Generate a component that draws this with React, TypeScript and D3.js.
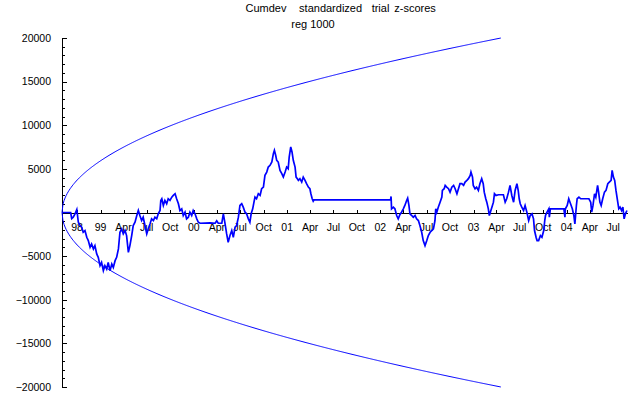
import React from "react";
import * as d3 from "d3";

// ---------- data ----------
const startDate = new Date(1998, 7, 3);
const titleWords = ["Cumdev", "standardized", "trial", "z-scores"];
const subtitle = "reg 1000";

// day offsets (from startDate) and cumulative deviation values
const seriesDays = [
  0, 34, 38, 44, 51, 58, 64, 71, 77, 83, 90, 97, 103, 110, 116, 123, 129, 136, 142, 149,
  155, 162, 168, 175, 181, 188, 195, 201, 208, 214, 221, 227, 234, 240, 247, 253, 260, 266, 273, 279,
  286, 293, 299, 305, 312, 318, 325, 332, 338, 345, 351, 358, 364, 371, 377, 384, 387, 391, 397, 403,
  410, 416, 423, 430, 436, 443, 449, 456, 462, 469, 475, 482, 488, 495, 501, 508, 514, 521, 528, 534,
  541, 580, 600, 606, 612, 626,
  632, 638, 645, 651, 658, 665, 671, 678, 684, 691, 697, 704, 710, 717, 723, 730, 736, 741, 747, 752,
  756, 762, 769, 776, 782, 789, 795, 802, 808, 815, 822, 828, 832, 837, 841, 847, 854, 861, 867, 874,
  880, 886, 890, 896, 901, 906, 913, 917, 922, 926, 932, 939, 945, 952, 958, 965, 971, 975, 980, 984,
  987, 1287, 1289, 1291,
  1298, 1304, 1311, 1317, 1324, 1330, 1337, 1343, 1350, 1354, 1359, 1363, 1370, 1376, 1383, 1389, 1396, 1402,
  1409, 1415, 1422, 1429, 1435, 1442, 1448, 1455, 1461, 1464, 1468, 1474, 1481, 1488, 1490, 1497, 1501, 1507,
  1514, 1520, 1527, 1534, 1540, 1547, 1553, 1559, 1566, 1573, 1579, 1586, 1592, 1599, 1602, 1608, 1611, 1618,
  1624, 1631, 1637, 1644, 1650, 1654, 1660, 1664, 1670, 1674, 1680, 1684, 1690, 1694, 1700, 1710, 1729, 1736,
  1742, 1749, 1755, 1762, 1769, 1775, 1782, 1787, 1791,
  1795, 1801, 1808, 1814, 1821, 1828, 1834, 1841, 1847, 1851, 1857, 1861, 1867, 1874, 1880, 1887, 1891, 1894,
  1900, 1907, 1909, 1913, 1966, 1970, 1972, 1979, 1985, 1992, 1999, 2005, 2009, 2015, 2018, 2025, 2032, 2064,
  2071, 2075, 2080, 2086, 2091, 2098, 2102, 2107, 2112, 2118, 2125, 2131, 2138, 2144, 2151, 2155, 2160, 2165,
  2170, 2177, 2181, 2186, 2192, 2197, 2202, 2207, 2213,
];

const seriesValues = [
  0, 0, -690, -540, -150, 345, -1115, -1495, -1690, -2265, -2070, -2840, -3220, -3990, -3600, -4175, -3795, -4750, -5140, -6095,
  -5715, -6670, -6095, -6475, -5715, -6670, -5900, -6290, -5520, -5140, -4175, -2265, -1880, -2450, -2070, -2645, -4565, -3795, -2645, -1495,
  -1115, -345, 230, -345, -920, -540, -1495, -2450, -1875, -1300, -725, -920, -540, -725, -150, 230, 1380, 1575, 805, 1380,
  1000, 1575, 1380, 1760, 1955, 2150, 1575, 1000, 230, 425, -345, 35, -725, -540, 35, -345, 230, -150, -725, -1115,
  -1230, -1185, -1230, -950, -1230, -1230,
  -150, -1150, -2450, -3415, -2645, -2070, -2840, -1690, -1495, -540, 805, 1000, 610, 35, -150, -725, -1115, -150, 425, 1185,
  1760, 1575, 2150, 1955, 2725, 2910, 4255, 4635, 5210, 5405, 5785, 6750, 7130, 6555, 5980, 5785, 4830, 4450, 4060, 4635,
  5210, 5020, 6360, 7510, 6935, 5980, 5210, 4060, 3875, 3680, 3875, 3485, 4060, 3680, 3300, 2910, 2725, 2150, 1575, 1300,
  1440, 1440, 1840, 425,
  610, 425, -345, -725, -230, 35, 425, 805, 1380, 1645, 805, -150, -345, -540, -345, -725, -920, -1495,
  -2265, -3220, -3795, -3220, -2645, -2265, -2070, -1875, -920, 425, 35, 610, 1185, 1760, 2530, 2725, 3105, 2910,
  2725, 2335, 2910, 3105, 2725, 2150, 2725, 3300, 3300, 3105, 3485, 3680, 3875, 4255, 4635, 4060, 3105, 2725,
  2910, 2530, 3300, 3875, 3300, 2335, 1575, 1185, 425, -345, 230, 610, 1185, 2150, 1955, 2035, 2035, 1185,
  1575, 2335, 3105, 1955, 1185, 2530, 3300, 2530, 1575,
  1000, 610, 230, 805, 35, -920, -345, -150, -725, -2070, -2840, -3220, -3220, -2645, -2840, -2070, -920, -345,
  35, 425, -540, 425, 425, -540, 425, 805, 1575, 1000, 425, -345, -1300, 805, 1575, 1760, 1575, 1575,
  1185, 35, 805, 2150, 1760, 3105, 2335, 1185, 805, 1575, 2335, 2530, 3300, 3485, 3680, 4830, 4060, 3680,
  2530, 1185, 425, 610, 230, 610, -725, -150, 230,
];

// envelope: k * sqrt(days)
const envelopeK = 482.3;

const yTicksMajor = [-20000, -15000, -10000, -5000, 5000, 10000, 15000, 20000];
const yTickLabels = ["\u221220000", "\u221215000", "\u221210000", "\u22125000", "5000", "10000", "15000", "20000"];

const xTickLabels = [
  "98", "99", "Apr", "Jul", "Oct", "00", "Apr", "Jul", "Oct", "01", "Apr", "Jul", "Oct",
  "02", "Apr", "Jul", "Oct", "03", "Apr", "Jul", "Oct", "04", "Apr", "Jul",
];

// ---------- chart ----------
const W = 640;
const H = 395;
const FONT = "'Liberation Sans', Arial, Helvetica, sans-serif";
const titleCenters = [266, 330.6, 380.5, 415];

export default function App() {
  const x = d3
    .scaleTime()
    .domain([startDate, new Date(2004, 0, 1)])
    .range([62, 566.7]);
  const y = d3.scaleLinear().domain([-20000, 20000]).range([387, 38]);

  const dayToDate = (d: number) => d3.timeDay.offset(startDate, d);

  const series = seriesDays.map((d, i) => [x(dayToDate(d)), y(seriesValues[i])] as [number, number]);
  const line = d3.line<[number, number]>();

  const maxDay = Math.floor((20000 / envelopeK) ** 2);
  const envDays = d3.range(0, maxDay + 1, 4).concat([maxDay]);
  const upper = envDays.map((d) => [x(dayToDate(d)), y(envelopeK * Math.sqrt(d))] as [number, number]);
  const lower = envDays.map((d) => [x(dayToDate(d)), y(-envelopeK * Math.sqrt(d))] as [number, number]);

  const quarterDates = d3.timeMonth.every(3)!.range(new Date(1998, 9, 1), new Date(2004, 7, 1));

  const yMinor = d3.range(-20000, 20001, 1000).filter((v) => v % 5000 !== 0);
  const xEnd = x(dayToDate(seriesDays[seriesDays.length - 1])) + 1.5;

  return (
    <svg
      width={W}
      height={H}
      style={{ position: "absolute", left: 0, top: 0, background: "#fff" }}
      fontFamily={FONT}
    >
      <rect x={0} y={0} width={W} height={H} fill="#fff" />
      {titleWords.map((w, i) => (
        <text key={w} x={titleCenters[i]} y={11.5} fontSize={11} textAnchor="middle">
          {w}
        </text>
      ))}
      <text x={313} y={27.5} fontSize={11} textAnchor="middle">
        {subtitle}
      </text>

      {/* y axis */}
      <g shapeRendering="crispEdges" stroke="#000" strokeWidth={1}>
        <line x1={62} x2={62} y1={y(-20000)} y2={y(20000)} />
        {yTicksMajor.map((v) => (
          <line key={"M" + v} x1={62} x2={67} y1={Math.round(y(v))} y2={Math.round(y(v))} />
        ))}
        {yMinor.map((v) => (
          <line key={"m" + v} x1={62} x2={65} y1={Math.round(y(v))} y2={Math.round(y(v))} />
        ))}
        {/* x axis */}
        <line x1={62} x2={xEnd} y1={Math.round(y(0))} y2={Math.round(y(0))} />
        {quarterDates.map((d, i) => (
          <line
            key={"x" + i}
            x1={Math.round(x(d))}
            x2={Math.round(x(d))}
            y1={Math.round(y(0))}
            y2={Math.round(y(0)) - 3}
          />
        ))}
      </g>
      {yTicksMajor.map((v, i) => (
        <text key={"yl" + v} x={51} y={y(v) + 3.8} fontSize={10.5} textAnchor="end">
          {yTickLabels[i]}
        </text>
      ))}
      {quarterDates.map((d, i) => (
        <text key={"xl" + i} x={x(d)} y={231} fontSize={10.5} textAnchor="middle">
          {xTickLabels[i]}
        </text>
      ))}

      {/* envelope */}
      <path d={line(upper) || ""} fill="none" stroke="#0000ff" strokeWidth={1} />
      <path d={line(lower) || ""} fill="none" stroke="#0000ff" strokeWidth={1} />

      {/* series */}
      <path d={line(series) || ""} fill="none" stroke="#0000ff" strokeWidth={1.7} strokeLinejoin="miter" />
    </svg>
  );
}
